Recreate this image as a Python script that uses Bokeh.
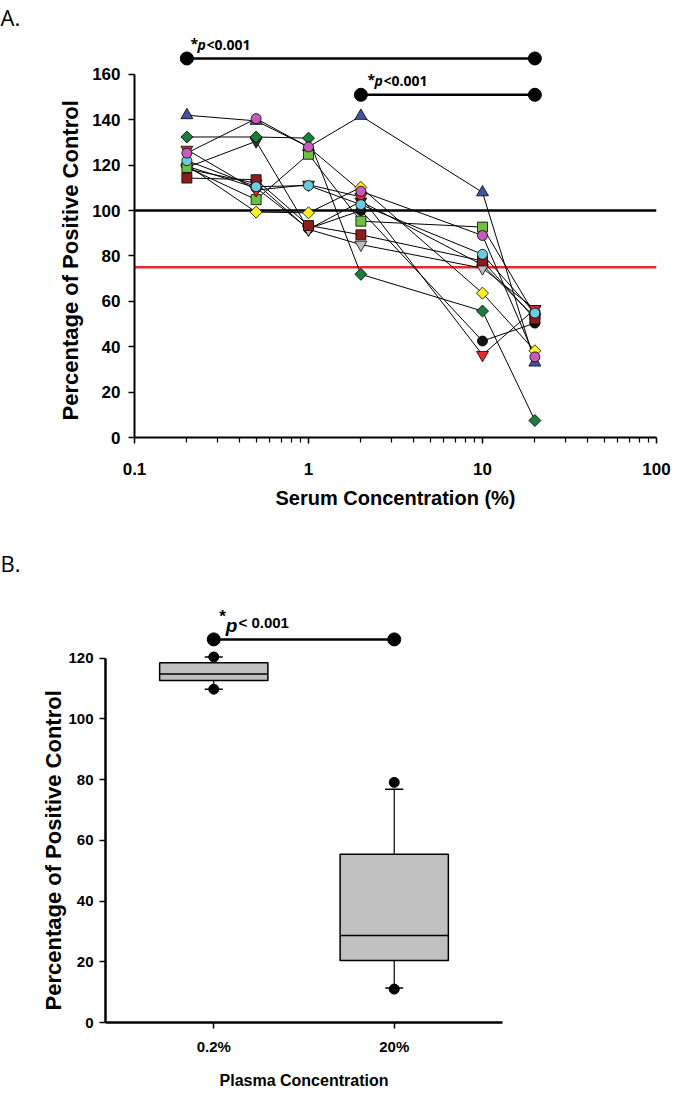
import numpy as np
from bokeh.plotting import figure
from bokeh.models import Range1d, FixedTicker, Span, Label, Title, CustomJSTickFormatter
from bokeh.embed import file_html
from bokeh.resources import INLINE

# ---------------- Panel A data ----------------
serum_conc = [0.2, 0.5, 1, 2, 10, 20]
blue_triangle = [142.0, 139.5, 128.0, 141.7, 108.0, 33.0]
green_diamond = [132.4, 132.4, 131.9, 71.9, 55.7, 7.5]
pink_circle = [125.3, 140.5, 128.0, 108.5, 89.0, 35.5]
lightgreen_square = [119.0, 104.8, 124.8, 95.3, 92.7, 54.0]
cyan_circle = [122.0, 110.5, 111.0, 102.6, 80.7, 54.8]
darkred_square = [114.3, 113.6, 93.4, 89.3, 77.8, 52.2]
red_invtriangle = [126.8, 109.0, 111.4, 106.0, 36.4, 56.6]
gray_invtriangle = [118.3, 112.0, 91.7, 85.0, 74.6, 56.6]
yellow_diamond = [120.0, 99.3, 99.0, 110.2, 63.6, 38.2]
black_circle = [119.5, 110.0, 92.0, 100.0, 42.5, 50.4]
dark_invtriangle = [119.0, 130.5, 91.7, 104.0, 76.0, 53.0]

series_values = [dark_invtriangle, black_circle, gray_invtriangle, yellow_diamond,
                 lightgreen_square, darkred_square, red_invtriangle, cyan_circle,
                 blue_triangle, green_diamond, pink_circle]
series_markers = ["inverted_triangle", "circle", "inverted_triangle", "diamond",
                  "square", "square", "inverted_triangle", "circle",
                  "triangle", "diamond", "circle"]
series_colors = ["#333333", "#111111", "#bdbdbd", "#fbee23",
                 "#6fbf45", "#8c1d1d", "#e8282b", "#6ccbe0",
                 "#44539f", "#1b7c3c", "#c75bb9"]

ref_line_black = 100
ref_line_red = 75
sigA_1 = [0.2, 20, 167]   # x start, x end, level
sigA_2 = [2, 20, 151]
sig_text = "<0.001"

# ---------------- Panel B data ----------------
plasma_cats = ["0.2%", "20%"]
box_q1 = [112.7, 20.4]
box_median = [114.8, 28.7]
box_q3 = [118.5, 55.4]
whisker_low = [109.8, 11.4]
whisker_high = [120.4, 76.8]
point_low = [109.8, 11.0]
point_high = [120.4, 79.1]
sigB_level = 126.2

ARIAL = "'Liberation Sans', Arial, sans-serif"
OPEN = "'Open Sans', sans-serif"

# ---------------- Panel A ----------------
A_W, A_H = 687, 516
A_LEFT, A_RIGHT, A_TOP, A_BOTTOM = 134, 31, 33, 79
A_YMAX = 178
pA = figure(width=A_W, height=A_H, x_axis_type="log",
            x_range=Range1d(0.1, 100), y_range=Range1d(0, A_YMAX),
            output_backend="svg", toolbar_location=None,
            min_border_left=A_LEFT, min_border_right=A_RIGHT,
            min_border_top=A_TOP, min_border_bottom=A_BOTTOM,
            outline_line_color=None, background_fill_color="white",
            border_fill_color="white")
pA.grid.visible = False

AX0 = A_LEFT
ADEC = (A_W - A_LEFT - A_RIGHT) / 3.0
AY0 = A_H - A_BOTTOM
AYS = (A_H - A_TOP - A_BOTTOM) / A_YMAX
def a_x(px):
    return 10 ** (-1 + (px - AX0) / ADEC)
def a_y(py):
    return (AY0 - py) / AYS

for val in (ref_line_black, ref_line_red):
    sp = Span(location=val, dimension="width", line_width=2.5,
              line_color="black" if val == ref_line_black else "#e52b2b",
              level="underlay")
    pA.add_layout(sp)

for vals in series_values:
    pA.line(serum_conc, vals, line_color="black", line_width=1)

for vals, mk, col in zip(series_values, series_markers, series_colors):
    if mk == "diamond":
        pA.scatter(serum_conc, vals, marker="square", angle=np.pi / 4, size=8.5,
                   fill_color=col, line_color="black", line_width=0.8)
    elif mk == "circle":
        pA.scatter(serum_conc, vals, marker="circle", size=10,
                   fill_color=col, line_color="black", line_width=0.8)
    elif mk == "square":
        pA.scatter(serum_conc, vals, marker="square", size=10,
                   fill_color=col, line_color="black", line_width=0.8)
    else:
        pA.scatter(serum_conc, vals, marker=mk, size=12,
                   fill_color=col, line_color="black", line_width=0.8)

for sig in (sigA_1, sigA_2):
    pA.line([sig[0], sig[1]], [sig[2], sig[2]], line_color="black", line_width=2.5)
    pA.scatter([sig[0], sig[1]], [sig[2], sig[2]], marker="circle", size=13,
               fill_color="black", line_color="black")

minor = [m * 10.0 ** e for e in (-1, 0, 1) for m in range(2, 10)]
pA.xaxis.ticker = FixedTicker(ticks=[0.1, 1, 10, 100], minor_ticks=minor)
pA.xaxis.formatter = CustomJSTickFormatter(code="return tick.toString();")
pA.yaxis.ticker = FixedTicker(ticks=list(range(0, 161, 20)))
pA.yaxis.bounds = (0, 160)
for ax in (pA.xaxis[0], pA.yaxis[0]):
    ax.axis_line_width = 2
    ax.major_tick_line_width = 1.5
    ax.minor_tick_line_width = 1.2
    ax.major_tick_in = 0
    ax.major_tick_out = 6
    ax.minor_tick_in = 0
    ax.minor_tick_out = 5
    ax.major_label_text_font = ARIAL
    ax.major_label_text_font_style = "bold"
    ax.major_label_text_font_size = "17px"
    ax.major_label_text_color = "black"
pA.yaxis.minor_tick_out = 0
pA.xaxis.major_label_standoff = 19
pA.yaxis.major_label_standoff = 8
pA.xaxis.axis_label = "Serum Concentration (%)"
pA.xaxis.axis_label_text_font = ARIAL
pA.xaxis.axis_label_text_font_style = "bold"
pA.xaxis.axis_label_text_font_size = "20px"
pA.xaxis.axis_label_text_color = "black"
pA.xaxis.axis_label_standoff = 9

pA.add_layout(Title(text="A.", align="left", offset=-A_LEFT, standoff=0,
                    vertical_align="top", text_color="black",
                    text_font=OPEN, text_font_style="normal",
                    text_font_size="22px"), "above")
pA.add_layout(Title(text="Percentage of Positive Control", align="left", offset=17,
                    standoff=14, text_font=ARIAL, text_font_style="bold",
                    text_color="black", text_font_size="22px"), "left")

def addA(text, px, py, size, font=ARIAL, style="bold", align="center", angle=0):
    pA.add_layout(Label(x=a_x(px), y=a_y(py), text=text, text_font=font,
                        text_font_style=style, text_font_size=size,
                        text_align=align, text_baseline="middle", angle=angle,
                        text_color="black"))

for (sx, sy) in ((190, 44), (367, 80)):
    addA("*", sx, sy - 1, "14px", font=OPEN, align="left")
    addA("p", sx + 7, sy, "14px", font=OPEN, style="bold italic", align="left")
    addA(sig_text, sx + 16, sy, "14px", font=OPEN, align="left")

# ---------------- Panel B ----------------
B_W, B_H = 687, 576
B_LEFT, B_RIGHT, B_TOP, B_BOTTOM = 105, 185, 81, 70
B_YMAX = 140
B_XS, B_XE = 0.4, 2.6
pB = figure(width=B_W, height=B_H, x_range=Range1d(B_XS, B_XE),
            y_range=Range1d(0, B_YMAX),
            output_backend="svg", toolbar_location=None,
            min_border_left=B_LEFT, min_border_right=B_RIGHT,
            min_border_top=B_TOP, min_border_bottom=B_BOTTOM,
            outline_line_color=None, background_fill_color="white",
            border_fill_color="white")
pB.grid.visible = False

BPX0 = B_LEFT
BXS = (B_W - B_LEFT - B_RIGHT) / (B_XE - B_XS)
BPY0 = A_H + B_H - B_BOTTOM
BYS = (B_H - B_TOP - B_BOTTOM) / B_YMAX
def b_x(px):
    return B_XS + (px - BPX0) / BXS
def b_y(py):
    return (BPY0 - py) / BYS

pos = [i + 1 for i in range(len(plasma_cats))]
half = 0.3
cap = 0.05
pB.segment(x0=pos, y0=box_q3, x1=pos, y1=whisker_high, line_color="black", line_width=1.2)
pB.segment(x0=pos, y0=box_q1, x1=pos, y1=whisker_low, line_color="black", line_width=1.2)
pB.segment(x0=[p - cap for p in pos], y0=whisker_high, x1=[p + cap for p in pos],
           y1=whisker_high, line_color="black", line_width=1.5)
pB.segment(x0=[p - cap for p in pos], y0=whisker_low, x1=[p + cap for p in pos],
           y1=whisker_low, line_color="black", line_width=1.5)
pB.quad(left=[p - half for p in pos], right=[p + half for p in pos],
        bottom=box_q1, top=box_q3, fill_color="#c0c0c0", line_color="black",
        line_width=1.5)
pB.segment(x0=[p - half for p in pos], y0=box_median, x1=[p + half for p in pos],
           y1=box_median, line_color="black", line_width=1.5)
pB.scatter(pos, point_high, marker="circle", size=10, fill_color="black", line_color="black")
pB.scatter(pos, point_low, marker="circle", size=10, fill_color="black", line_color="black")

pB.line([pos[0], pos[1]], [sigB_level, sigB_level], line_color="black", line_width=2.5)
pB.scatter([pos[0], pos[1]], [sigB_level, sigB_level], marker="circle", size=13,
           fill_color="black", line_color="black")

pB.xaxis.ticker = FixedTicker(ticks=pos)
pB.xaxis.major_label_overrides = {p: c for p, c in zip(pos, plasma_cats)}
pB.yaxis.ticker = FixedTicker(ticks=list(range(0, 121, 20)))
pB.yaxis.bounds = (0, 120)
for ax in (pB.xaxis[0], pB.yaxis[0]):
    ax.axis_line_width = 2.5
    ax.major_tick_line_width = 1.5
    ax.major_tick_in = 0
    ax.major_tick_out = 6
    ax.minor_tick_in = 0
    ax.minor_tick_out = 0
    ax.major_label_text_font = ARIAL
    ax.major_label_text_font_style = "bold"
    ax.major_label_text_font_size = "15px"
    ax.major_label_text_color = "black"
pB.xaxis.major_label_standoff = 9
pB.yaxis.major_label_standoff = 6
pB.xaxis.axis_label = "Plasma Concentration"
pB.xaxis.axis_label_text_font = ARIAL
pB.xaxis.axis_label_text_font_style = "bold"
pB.xaxis.axis_label_text_font_size = "16px"
pB.xaxis.axis_label_text_color = "black"
pB.xaxis.axis_label_standoff = 14

pB.add_layout(Title(text="B.", align="left", offset=-B_LEFT, standoff=40,
                    text_color="black",
                    text_font=OPEN, text_font_style="normal",
                    text_font_size="22px"), "above")
pB.add_layout(Title(text="Percentage of Positive Control", align="left", offset=12,
                    standoff=0, text_font=ARIAL, text_font_style="bold",
                    text_color="black", text_font_size="22px"), "left")

def addB(text, px, py, size, font=ARIAL, style="bold", align="center", angle=0):
    pB.add_layout(Label(x=b_x(px), y=b_y(py), text=text, text_font=font,
                        text_font_style=style, text_font_size=size,
                        text_align=align, text_baseline="middle", angle=angle,
                        text_color="black"))

addB("*", 222, 616, "17px", align="center")
addB("p", 231, 625, "19px", style="bold italic", align="center")
addB("< 0.001", 238, 622, "15px", align="left")

open("out.html", "w").write(file_html([pA, pB], INLINE))
